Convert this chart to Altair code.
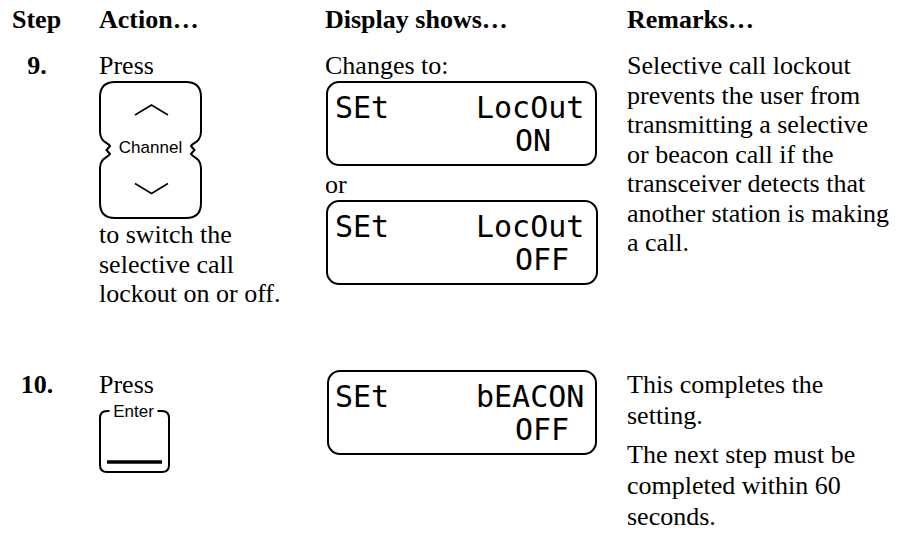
import re
import altair as alt
import pandas as pd

# ---------------- content ----------------
headers = ["Step", "Action…", "Display shows…", "Remarks…"]
step_numbers = ["9.", "10."]
action_9_lead = ["Press"]
action_9_tail = ["to switch the", "selective call", "lockout on or off."]
action_10_lead = ["Press"]
display_9_captions = ["Changes to:", "or"]
lcd_left = ["SEt", "SEt", "SEt"]
lcd_right = ["LocOut", "LocOut", "bEACON"]
lcd_value = ["ON", "OFF", "OFF"]
remarks_9 = [
    "Selective call lockout",
    "prevents the user from",
    "transmitting a selective",
    "or beacon call if the",
    "transceiver detects that",
    "another station is making",
    "a call.",
]
remarks_10_a = ["This completes the", "setting."]
remarks_10_b = ["The next step must be", "completed within 60", "seconds."]
button_labels = ["Channel", "Enter"]

# ---------------- layout (page pixels) ----------------
COL_X = [12, 99, 325, 627]
STEP_X = 37
HEADER_BASE = 28
ROW9_BASE = 74
ROW10_BASE = 393
LEAD = 29.5
LEAD10 = 31
TAIL9_BASE = 243
OR_BASE = 193
REM10_B_BASE = 463
LCD_BOXES = [(327, 82, 596, 165), (327, 201, 597, 284), (328, 371, 596, 454)]
LCD_X = [335, 476, 515]
LCD_ROW_OFFSETS = [36, 69]

SERIF = "Liberation Serif"
SANS = "Liberation Sans"
MONO = "DejaVu Sans Mono"
FS = 26

# ---------------- tables ----------------
header_df = pd.DataFrame({"x": COL_X, "y": [HEADER_BASE] * 4, "t": headers})
step_df = pd.DataFrame({"x": [STEP_X, STEP_X], "y": [ROW9_BASE, ROW10_BASE], "t": step_numbers})

rows = []
rows.append((COL_X[1], ROW9_BASE, action_9_lead[0]))
for i, s in enumerate(action_9_tail):
    rows.append((COL_X[1], TAIL9_BASE + i * LEAD, s))
rows.append((COL_X[2], ROW9_BASE, display_9_captions[0]))
rows.append((COL_X[2], OR_BASE, display_9_captions[1]))
for i, s in enumerate(remarks_9):
    rows.append((COL_X[3], ROW9_BASE + i * LEAD, s))
rows.append((COL_X[1], ROW10_BASE, action_10_lead[0]))
for i, s in enumerate(remarks_10_a):
    rows.append((COL_X[3], ROW10_BASE + i * LEAD10, s))
for i, s in enumerate(remarks_10_b):
    rows.append((COL_X[3], REM10_B_BASE + i * LEAD10, s))
body_df = pd.DataFrame(rows, columns=["x", "y", "t"])

box_df = pd.DataFrame(LCD_BOXES, columns=["x0", "y0", "x1", "y1"])

lcd_rows = []
for (x0, y0, x1, y1), a, b, c in zip(LCD_BOXES, lcd_left, lcd_right, lcd_value):
    lcd_rows.append((LCD_X[0], y0 + LCD_ROW_OFFSETS[0], a))
    lcd_rows.append((LCD_X[1], y0 + LCD_ROW_OFFSETS[0], b))
    lcd_rows.append((LCD_X[2], y0 + LCD_ROW_OFFSETS[1], c))
lcd_df = pd.DataFrame(lcd_rows, columns=["x", "y", "t"])

label_df = pd.DataFrame({"x": [150.5, 133.5], "y": [148, 411.5], "t": button_labels})


def unit_path(cmds, half):
    return re.sub(r"-?\d+(?:\.\d+)?", lambda m: f"{float(m.group()) / half:.4f}", cmds)


CHANNEL_PATH = unit_path(
    "M -35.5 -68 L 35.5 -68 Q 50.5 -68 50.5 -53 L 50.5 -18 "
    "C 50.5 -8 42 -7 40.5 -4 L 44 0 L 40.5 4 C 42 7 50.5 8 50.5 18 "
    "L 50.5 53 Q 50.5 68 35.5 68 L -35.5 68 Q -50.5 68 -50.5 53 L -50.5 18 "
    "C -50.5 8 -42 7 -40.5 4 L -44 0 L -40.5 -4 C -42 -7 -50.5 -8 -50.5 -18 "
    "L -50.5 -53 Q -50.5 -68 -35.5 -68 Z",
    68,
)
CHEV_UP = unit_path("M -16.5 5 L 0 -5 L 16.5 5", 16.5)
CHEV_DOWN = unit_path("M -16.5 -5 L 0 5 L 16.5 -5", 16.5)
ENTER_PATH = unit_path(
    "M -25 -30.5 L -27.5 -30.5 Q -34.5 -30.5 -34.5 -23.5 L -34.5 23.5 "
    "Q -34.5 30.5 -27.5 30.5 L 27.5 30.5 Q 34.5 30.5 34.5 23.5 L 34.5 -23.5 "
    "Q 34.5 -30.5 27.5 -30.5 L 23 -30.5",
    34.5,
)

channel_df = pd.DataFrame({"x": [150.5], "y": [150]})
up_df = pd.DataFrame({"x": [151.5], "y": [110]})
down_df = pd.DataFrame({"x": [151.5], "y": [188.5]})
enter_df = pd.DataFrame({"x": [134.5], "y": [441.5]})
bar_df = pd.DataFrame({"x0": [107], "x1": [162], "y": [462]})

XS = alt.Scale(domain=[8, 891], nice=False, zero=False)
YS = alt.Scale(domain=[8, 525], nice=False, zero=False, reverse=True)


def X(f="x"):
    return alt.X(f"{f}:Q", scale=XS, axis=None)


def Y(f="y"):
    return alt.Y(f"{f}:Q", scale=YS, axis=None)


def text_layer(df, **kw):
    return alt.Chart(df).mark_text(color="black", **kw).encode(x=X(), y=Y(), text="t:N")


boxes = alt.Chart(box_df).mark_rect(
    fill="white", stroke="black", strokeWidth=2, cornerRadius=12
).encode(x=X("x0"), x2="x1", y=Y("y0"), y2="y1")

headers_l = text_layer(header_df, font=SERIF, fontSize=FS, fontWeight="bold", align="left", baseline="alphabetic")
steps_l = text_layer(step_df, font=SERIF, fontSize=FS, fontWeight="bold", align="center", baseline="alphabetic")
body_l = text_layer(body_df, font=SERIF, fontSize=FS, align="left", baseline="alphabetic")
lcd_l = text_layer(lcd_df, font=MONO, fontSize=30, align="left", baseline="alphabetic")
labels_l = text_layer(label_df, font=SANS, fontSize=17, align="center", baseline="middle")


def shape_layer(df, path, side, sw):
    return alt.Chart(df).mark_point(
        shape=path, size=side * side, filled=False, stroke="black",
        strokeWidth=sw, opacity=1
    ).encode(x=X(), y=Y())


channel_l = shape_layer(channel_df, CHANNEL_PATH, 136, 2)
up_l = shape_layer(up_df, CHEV_UP, 33, 1.6)
down_l = shape_layer(down_df, CHEV_DOWN, 33, 1.6)
enter_l = shape_layer(enter_df, ENTER_PATH, 69, 2)
bar_l = alt.Chart(bar_df).mark_rule(color="black", strokeWidth=3.5).encode(
    x=X("x0"), x2="x1", y=Y()
)

chart = alt.layer(
    boxes, headers_l, steps_l, body_l, lcd_l, channel_l, up_l, down_l,
    enter_l, bar_l, labels_l
).properties(
    width=883, height=517, padding=0, autosize=alt.AutoSizeParams(type="none"),
    background="white"
).configure_view(stroke=None)

chart.save("out.html", embed_options={"renderer": "svg", "actions": False})
